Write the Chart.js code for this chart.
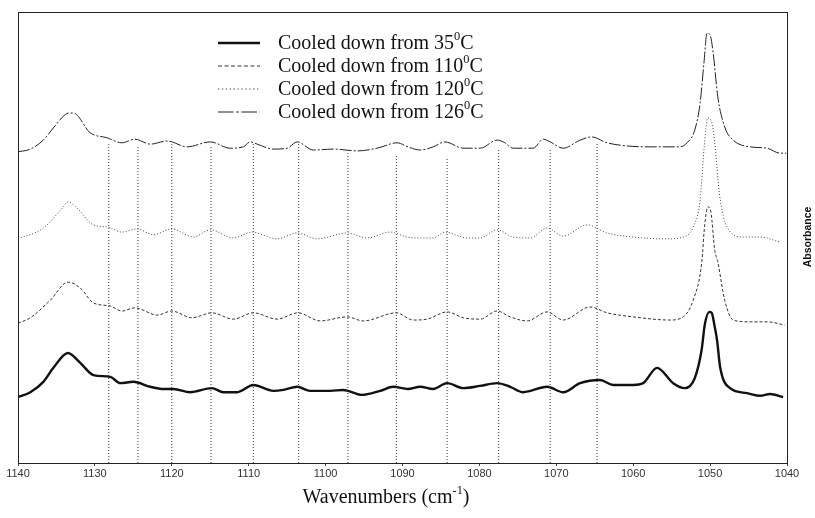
<!DOCTYPE html>
<html>
<head>
<meta charset="utf-8">
<script src="https://cdn.jsdelivr.net/npm/chart.js@4/dist/chart.umd.min.js"></script>
<style>
  html, body { margin: 0; padding: 0; background: #fff; }
  #spectra { display: block; }
</style>
</head>
<body>
<canvas id="spectra" width="815" height="518"></canvas>
<script>
// temperatures in legend order
var temperatures = ['35', '110', '120', '126'];

// 35 C (bottom, solid)
var wn35 = [1140.0, 1138.4, 1136.7, 1135.4, 1133.5, 1131.9, 1130.2, 1128.0, 1126.7, 1125.0, 1122.8, 1121.1, 1119.8, 1117.6,
    1114.8, 1113.3, 1111.5, 1109.4, 1106.8, 1105.5, 1103.7, 1102.0, 1099.4, 1097.7, 1095.3, 1092.9, 1091.2, 1089.3,
    1087.7, 1086.0, 1084.2, 1082.1, 1079.9, 1077.7, 1076.0, 1074.3, 1071.2, 1069.1, 1066.9, 1064.3, 1062.6, 1060.0,
    1058.7, 1056.9, 1054.8, 1053.3, 1052.0, 1051.1, 1050.7, 1050.1, 1049.8, 1049.4, 1049.1, 1048.7, 1047.4, 1045.2,
    1043.5, 1042.2, 1040.5];
var abs35 = [0.146, 0.157, 0.180, 0.211, 0.244, 0.222, 0.195, 0.191, 0.177, 0.180, 0.169, 0.164, 0.164, 0.157,
    0.166, 0.157, 0.157, 0.173, 0.160, 0.162, 0.169, 0.160, 0.160, 0.162, 0.151, 0.160, 0.169, 0.164,
    0.169, 0.164, 0.177, 0.166, 0.171, 0.177, 0.169, 0.157, 0.169, 0.157, 0.177, 0.184, 0.173, 0.173,
    0.177, 0.211, 0.177, 0.166, 0.188, 0.251, 0.306, 0.335, 0.333, 0.302, 0.273, 0.213, 0.166, 0.155,
    0.149, 0.153, 0.146];

// 110 C (third from top, dashed)
var wn110 = [1140.0, 1138.4, 1135.8, 1133.5, 1131.9, 1130.2, 1128.0, 1126.5, 1124.8, 1121.9, 1120.0, 1117.4, 1114.8,
    1112.0, 1109.4, 1106.3, 1103.6, 1100.7, 1097.2, 1095.1, 1090.8, 1088.6, 1086.8, 1084.2, 1082.1, 1079.9, 1077.7,
    1076.0, 1073.8, 1071.2, 1069.1, 1065.6, 1063.4, 1060.0, 1055.2, 1053.5, 1052.2, 1051.1, 1050.7, 1050.3, 1049.9,
    1049.4, 1049.0, 1048.1, 1047.0, 1044.8, 1042.6, 1040.3];
var abs110 = [0.310, 0.322, 0.361, 0.401, 0.388, 0.355, 0.348, 0.337, 0.344, 0.328, 0.337, 0.322, 0.333,
    0.319, 0.333, 0.319, 0.333, 0.315, 0.324, 0.315, 0.333, 0.317, 0.319, 0.335, 0.322, 0.319, 0.337,
    0.324, 0.315, 0.335, 0.317, 0.346, 0.333, 0.324, 0.317, 0.324, 0.361, 0.443, 0.528, 0.568, 0.557,
    0.472, 0.446, 0.361, 0.317, 0.313, 0.313, 0.306];

// 120 C (second from top, dotted)
var wn120 = [1140.0, 1136.7, 1134.1, 1133.5, 1132.3, 1130.2, 1128.3, 1126.5, 1124.5, 1122.4, 1120.0, 1117.2, 1115.0,
    1112.0, 1109.6, 1106.3, 1103.7, 1101.1, 1097.2, 1094.6, 1091.6, 1089.4, 1088.1, 1086.0, 1084.5, 1081.6, 1079.9,
    1077.7, 1075.6, 1073.4, 1071.2, 1069.1, 1066.0, 1063.4, 1060.0, 1055.6, 1053.5, 1052.2, 1051.3, 1050.8, 1050.3,
    1049.8, 1049.4, 1048.8, 1047.8, 1045.7, 1043.5, 1040.9];
var abs120 = [0.497, 0.521, 0.568, 0.579, 0.565, 0.528, 0.523, 0.512, 0.519, 0.506, 0.519, 0.501, 0.517,
    0.499, 0.512, 0.497, 0.510, 0.497, 0.510, 0.499, 0.512, 0.501, 0.499, 0.499, 0.512, 0.499, 0.499,
    0.517, 0.501, 0.499, 0.521, 0.503, 0.528, 0.510, 0.501, 0.497, 0.501, 0.523, 0.583, 0.694, 0.765,
    0.756, 0.710, 0.599, 0.523, 0.501, 0.501, 0.490];

// 126 C (top, dash-dot)
var wn126 = [1140.0, 1138.4, 1136.7, 1135.4, 1133.9, 1133.4, 1132.8, 1130.6, 1128.4, 1126.5, 1124.8, 1122.8, 1120.6,
    1118.0, 1115.0, 1112.4, 1110.7, 1109.8, 1108.9, 1106.8, 1105.0, 1103.7, 1101.6, 1099.0, 1095.9, 1093.3, 1090.7,
    1089.3, 1087.7, 1086.0, 1084.5, 1082.1, 1079.9, 1077.7, 1076.9, 1075.6, 1073.0, 1071.7, 1070.8, 1069.1, 1066.9,
    1065.4, 1063.4, 1060.8, 1057.4, 1053.9, 1053.0, 1052.0, 1051.3, 1050.8, 1050.4, 1050.0, 1049.6, 1049.0, 1048.1,
    1047.0, 1044.8, 1042.6, 1040.9, 1040.1];
var abs126 = [0.690, 0.696, 0.716, 0.743, 0.772, 0.776, 0.776, 0.732, 0.721, 0.710, 0.718, 0.707, 0.714,
    0.701, 0.712, 0.698, 0.701, 0.712, 0.707, 0.696, 0.698, 0.712, 0.694, 0.696, 0.692, 0.698, 0.710,
    0.701, 0.694, 0.701, 0.712, 0.698, 0.698, 0.716, 0.712, 0.698, 0.698, 0.718, 0.712, 0.698, 0.716,
    0.723, 0.710, 0.703, 0.701, 0.701, 0.710, 0.738, 0.798, 0.887, 0.953, 0.949, 0.909, 0.812, 0.745,
    0.716, 0.701, 0.698, 0.687, 0.687];

// marked bands (dotted verticals) and where they stop at the top
var bandPositions = [1128.2, 1124.4, 1120.0, 1114.9, 1109.4, 1103.5, 1097.1, 1090.8, 1084.2, 1077.5, 1070.8, 1064.7];
var bandTops = [0.707, 0.703, 0.707, 0.701, 0.707, 0.710, 0.687, 0.683, 0.676, 0.696, 0.698, 0.710];

var xTicks = [1140, 1130, 1120, 1110, 1100, 1090, 1080, 1070, 1060, 1050, 1040];


function toPoints(xs, ys) {
    return xs.map(function (x, i) { return {x: x, y: ys[i]}; });
}

var spectrumStyles = {
    '35':  {color: '#111', width: 2.4, dash: []},
    '110': {color: '#333', width: 1, dash: [3, 2]},
    '120': {color: '#444', width: 1, dash: [1, 2]},
    '126': {color: '#222', width: 1, dash: [12, 2, 2, 2]},
};
var spectrumData = {
    '35': toPoints(wn35, abs35),
    '110': toPoints(wn110, abs110),
    '120': toPoints(wn120, abs120),
    '126': toPoints(wn126, abs126),
};

var datasets = [];
bandPositions.forEach(function (pos, i) {
    datasets.push({
        label: 'band ' + pos,
        data: [{x: pos, y: 0}, {x: pos, y: bandTops[i]}],
        borderColor: '#333',
        borderWidth: 1,
        borderDash: [1, 2],
        pointRadius: 0,
        isBand: true,
    });
});
temperatures.forEach(function (t) {
    var s = spectrumStyles[t];
    datasets.push({
        label: 'Cooled down from ' + t + '\u2070C',
        temp: t,
        data: spectrumData[t],
        borderColor: s.color,
        borderWidth: s.width,
        borderDash: s.dash,
        pointRadius: 0,
        cubicInterpolationMode: 'monotone',
        fill: false,
    });
});

// draws text runs where some parts are superscripts
function drawRuns(ctx, runs, x, y, size, family) {
    var cx = x;
    runs.forEach(function (r) {
        var fs = r[1] ? size * 0.62 : size;
        ctx.font = fs + 'px ' + family;
        ctx.fillText(r[0], cx, r[1] ? y - size * 0.38 : y);
        cx += ctx.measureText(r[0]).width;
    });
}
function runsWidth(ctx, runs, size, family) {
    var w = 0;
    runs.forEach(function (r) {
        ctx.font = (r[1] ? size * 0.62 : size) + 'px ' + family;
        w += ctx.measureText(r[0]).width;
    });
    return w;
}

var serif = '"Liberation Serif", "Times New Roman", serif';

var decorations = {
    id: 'decorations',
    afterDraw: function (chart) {
        var ctx = chart.ctx;
        var a = chart.chartArea;
        ctx.save();

        // frame
        ctx.strokeStyle = '#222';
        ctx.lineWidth = 1;
        ctx.setLineDash([]);
        ctx.strokeRect(a.left + 0.5, a.top + 0.5, a.right - a.left, a.bottom - a.top);

        // legend
        ctx.textBaseline = 'middle';
        ctx.textAlign = 'left';
        ctx.fillStyle = '#111';
        chart.data.datasets.filter(function (d) { return !d.isBand; }).forEach(function (d, i) {
            var y = 43 + i * 23;
            ctx.beginPath();
            ctx.strokeStyle = d.borderColor;
            ctx.lineWidth = d.borderWidth;
            ctx.setLineDash(d.borderDash.length ? d.borderDash.map(function (v) { return v * 1.3; }) : []);
            ctx.moveTo(218, y);
            ctx.lineTo(260, y);
            ctx.stroke();
            ctx.setLineDash([]);
            drawRuns(ctx, [['Cooled down from ' + d.temp, false], ['0', true], ['C', false]], 278, y + 1, 20, serif);
        });

        // x title
        var title = [['Wavenumbers (cm', false], ['-1', true], [')', false]];
        var tw = runsWidth(ctx, title, 20, serif);
        drawRuns(ctx, title, 386 - tw / 2, 498, 20, serif);

        // y title on the far right
        ctx.translate(808, 237);
        ctx.rotate(-Math.PI / 2);
        ctx.textAlign = 'center';
        ctx.font = 'bold 10.5px "Liberation Sans", Arial, sans-serif';
        ctx.fillText('Absorbance', 0, 0);
        ctx.restore();
    }
};

new Chart(document.getElementById('spectra'), {
    type: 'line',
    data: {datasets: datasets},
    plugins: [decorations],
    options: {
        responsive: false,
        animation: false,
        devicePixelRatio: 1,
        layout: {padding: {left: 18, right: 28, top: 12, bottom: 0}},
        plugins: {legend: {display: false}, tooltip: {enabled: false}},
        scales: {
            x: {
                type: 'linear',
                reverse: true,
                min: 1040,
                max: 1140,
                afterBuildTicks: function (scale) {
                    scale.ticks = xTicks.map(function (v) { return {value: v}; });
                },
                afterFit: function (scale) { scale.height = 55; },
                ticks: {
                    color: '#333',
                    font: {family: '"Liberation Sans", Arial, sans-serif', size: 11},
                    padding: 1,
                    maxRotation: 0,
                    callback: function (v) { return String(v); },
                },
                grid: {drawOnChartArea: false, tickLength: 3, color: '#444'},
                border: {color: '#222'},
            },
            y: {
                display: false,
                min: 0,
                max: 1,
            },
        },
    },
});
</script>
</body>
</html>
